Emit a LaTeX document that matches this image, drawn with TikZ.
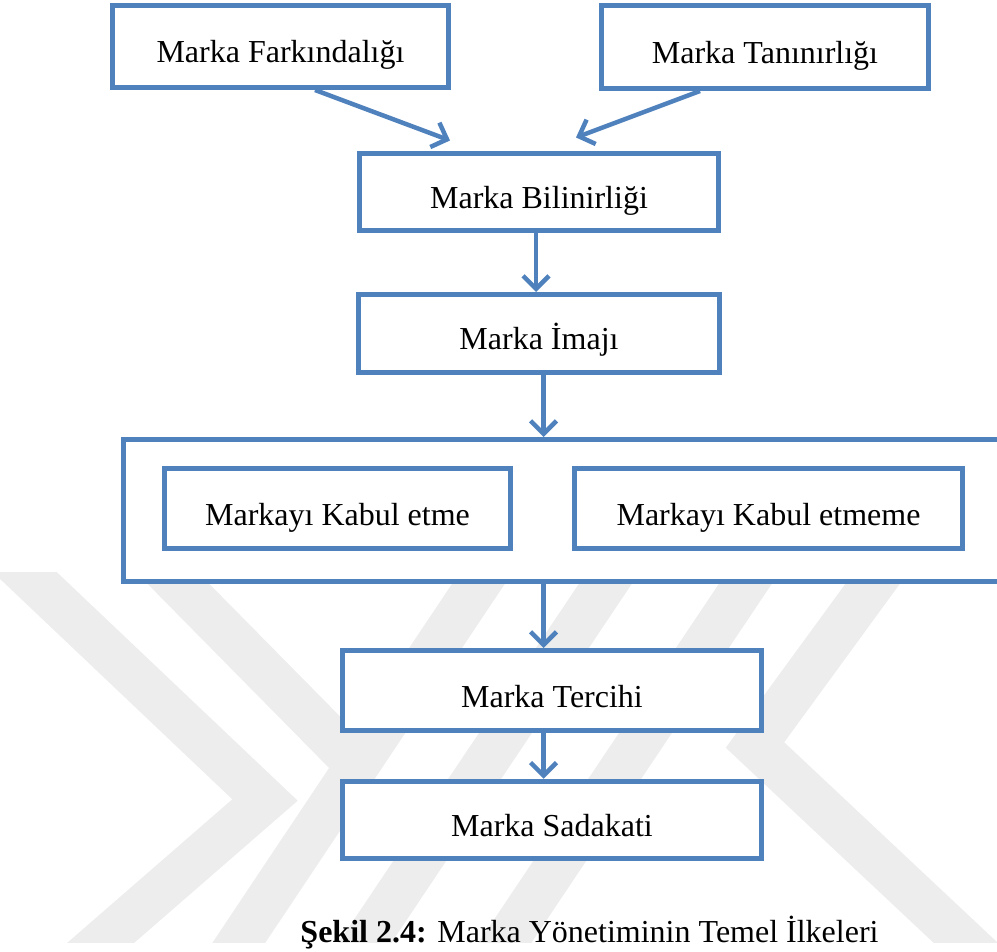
\documentclass[tikz,border=0pt]{standalone}
\usepackage{fontspec}
\setmainfont{Liberation Serif}
\usetikzlibrary{arrows.meta}
\definecolor{boxblue}{HTML}{4F81BD}
\definecolor{wmgray}{gray}{0.93}
\begin{document}
\begin{tikzpicture}[x=1pt,y=-1pt,
  box/.style={draw=boxblue, line width=5pt, fill=white, rectangle, inner sep=0pt,
    font=\fontsize{32}{38}\selectfont, text height=33pt, text depth=0pt},
  arr/.style={draw=boxblue, line width=4.5pt, -{Straight Barb[length=13pt,width=26pt]}},
  wmstripe/.style={draw=wmgray, line width=44pt, line join=miter}]
\useasboundingbox (0,0) rectangle (997,952);
% watermark
\begin{scope}
\clip (0,572) rectangle (997,942);
\draw[wmstripe] (1.5,550) -- (265,800) -- (58,980);
\draw[wmstripe] (145,550) -- (360,768);
\draw[wmstripe] (501,550) -- (214,980);
\draw[wmstripe] (628,550) -- (340,980);
\draw[wmstripe] (768,550) -- (480,980);
\draw[wmstripe] (890,560) -- (755,745) -- (1000,975);
\end{scope}
% boxes
\node[box, minimum width=336pt, minimum height=82pt] (fark) at (280.5,46.5) {Marka Farkındalığı};
\node[box, minimum width=327pt, minimum height=83pt] (tan) at (765,47) {Marka Tanınırlığı};
\node[box, minimum width=359pt, minimum height=77pt] (bil) at (539,192) {Marka Bilinirliği};
\node[box, minimum width=361pt, minimum height=78pt] (imaj) at (539,333.5) {Marka İmajı};
\node[box, minimum width=886.5pt, minimum height=142pt] (cont) at (566.75,510.5) {};
\node[box, minimum width=346pt, minimum height=80pt] (kabul) at (337.5,508.5) {Markayı Kabul etme};
\node[box, minimum width=388pt, minimum height=80pt] (kabulme) at (768.5,508.5) {Markayı Kabul etmeme};
\node[box, minimum width=419pt, minimum height=80pt] (terc) at (552,690.5) {Marka Tercihi};
\node[box, minimum width=419pt, minimum height=77.5pt] (sad) at (552,820) {Marka Sadakati};
% caption
\node[anchor=base, inner sep=0pt, font=\fontsize{32}{38}\selectfont] (cap) at (589.5,942)
  {\textbf{Şekil 2.4:} Marka Yönetiminin Temel İlkeleri};
% arrows
\coordinate (ax) at (543.5,0);
\draw[arr] ([xshift=34.5pt]fark.south) -- ([xshift=-89pt,yshift=10.5pt]bil.north);
\draw[arr] ([xshift=-65pt]tan.south) -- ([xshift=37pt,yshift=13.5pt]bil.north);
\draw[arr] ([xshift=-3pt]bil.south) -- ([xshift=-3pt]imaj.north);
\draw[arr] (imaj.south -| ax) -- (cont.north -| ax);
\draw[arr] (cont.south -| ax) -- (terc.north -| ax);
\draw[arr] (terc.south -| ax) -- (sad.north -| ax);
\end{tikzpicture}
\end{document}
